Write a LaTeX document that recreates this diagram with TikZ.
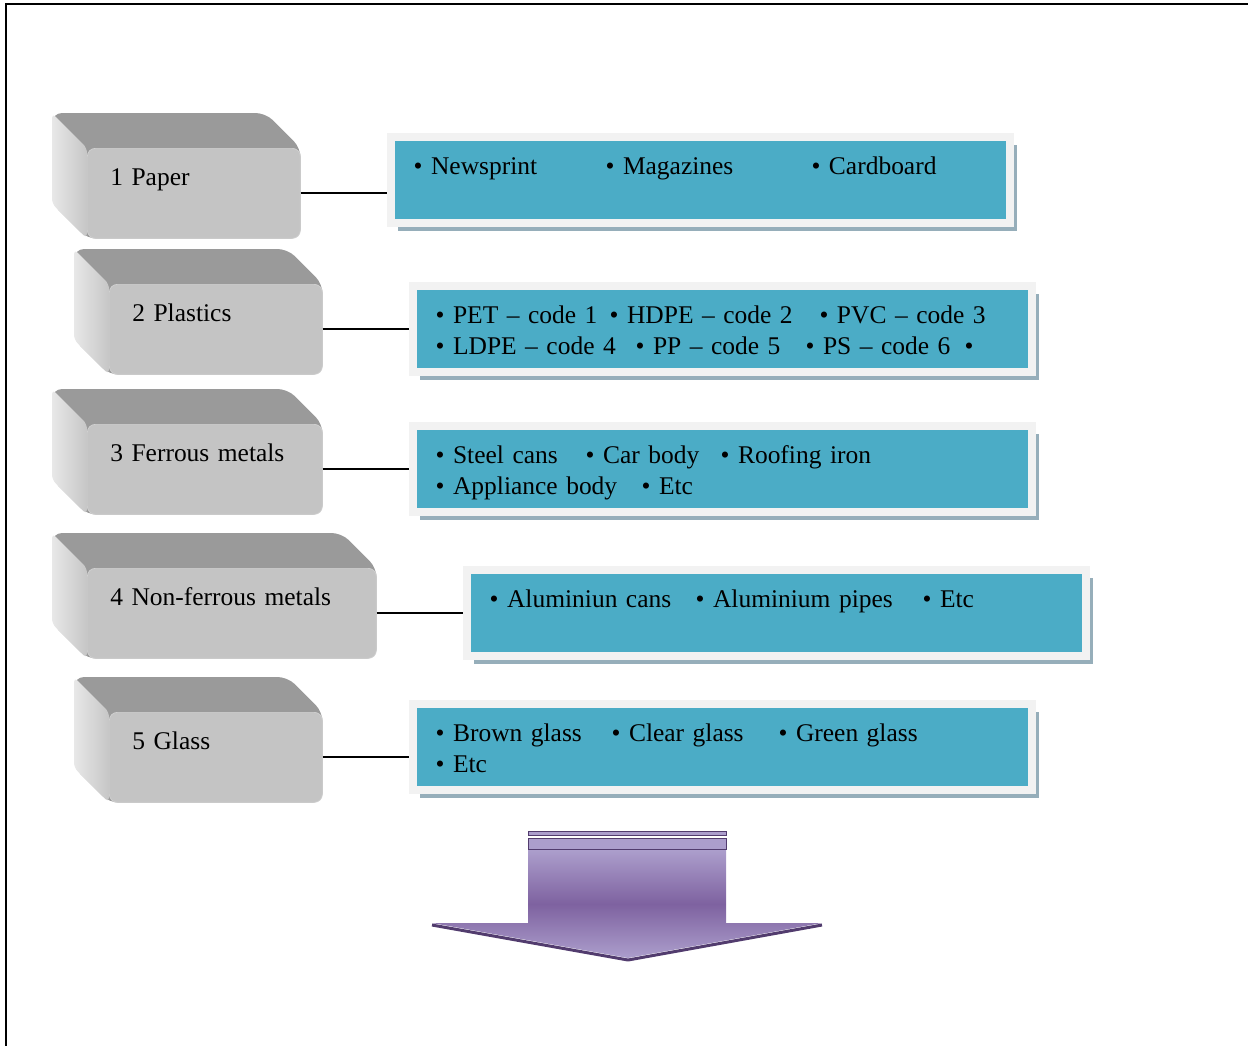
\documentclass[tikz,border=0pt]{standalone}
\usepackage{fontspec}
\setmainfont{Liberation Serif}
\usepackage{tikz}
\usetikzlibrary{positioning, shadows, calc, backgrounds}
\definecolor{listblue}{RGB}{75,172,198}
\definecolor{framewhite}{RGB}{242,242,242}
\definecolor{shadowgrey}{RGB}{150,174,186}
\definecolor{topgrey}{RGB}{154,154,154}
\definecolor{frontgrey}{RGB}{196,196,196}
\definecolor{sidelight}{RGB}{232,232,232}
\definecolor{sidedark}{RGB}{198,198,198}
\definecolor{arrowlight}{RGB}{172,158,204}
\definecolor{arrowdark}{RGB}{126,98,160}
\definecolor{arrowedge}{RGB}{82,60,110}
\tikzstyle{category} = [rectangle, rounded corners=0.16cm, fill=frontgrey, draw=white!82!black, anchor=north west, align=left, inner xsep=0.46cm, inner ysep=0pt, text height=0.74cm, text depth=1.06cm, font=\fontsize{14.5}{17.5}\selectfont]
\tikzstyle{itemlist} = [rectangle, fill=listblue, draw=framewhite, line width=0.16cm, align=left, text width=11.46cm, inner xsep=0.46cm, inner ysep=0pt, text height=0.74cm, text depth=0.98cm, font=\fontsize{14.5}{17.5}\selectfont, drop shadow={shadow xshift=0.14cm, shadow yshift=-0.16cm, fill=shadowgrey, opacity=1}]
\tikzstyle{link} = [line width=0.04cm, black]
\newcommand{\bitem}[2]{\makebox[#1][l]{\textbullet\ #2}}

\begin{document}
\begin{tikzpicture}[x=0.02cm, y=-0.02cm]
    \useasboundingbox (0,0) rectangle (1248,1046);
    % grey 3D category blocks
    \foreach \name/\x/\y/\w/\txt in {paper/87/148/213/1 Paper, plastics/109/284/213/2 Plastics, ferrous/87/424/235/3 Ferrous metals, nonferrous/87/568/289/4 Non-ferrous metals, glass/109/712/213/5 Glass}{
        \pgfmathsetlengthmacro{\tw}{(\w-46)*0.02cm}
        \node [category, text width=\tw] (\name) at (\x,\y) {\txt};
        \begin{scope}[on background layer]
            \fill [topgrey, rounded corners=0.2cm] ($(\name.north west)+(-35,-35)$) -- ($(\name.north east)+(-35,-35)$) -- (\name.north east) -- (\name.south east) -- (\name.south west) -- ($(\name.south west)+(-35,-35)$) -- cycle;
            \shade [left color=sidelight, right color=sidedark, rounded corners=0.1cm] ($(\name.north west)+(-35,-35)$) -- (\name.north west) -- (\name.south west) -- ($(\name.south west)+(-35,-35)$) -- cycle;
        \end{scope}
    }
    % blue item lists
    \node [itemlist, right=1.72cm of paper, yshift=0.26cm] (paperlist) {\bitem{3.84cm}{Newsprint}\bitem{4.12cm}{Magazines}\textbullet\ Cardboard};
    \node [itemlist, right=1.72cm of plastics] (plasticslist) {\bitem{3.48cm}{PET – code 1}\bitem{4.2cm}{HDPE – code 2}\textbullet\ PVC – code 3\\
        \bitem{4cm}{LDPE – code 4}\bitem{3.4cm}{PP – code 5}\bitem{3.18cm}{PS – code 6}\textbullet};
    \node [itemlist, right=1.72cm of ferrous] (ferrouslist) {\bitem{3cm}{Steel cans}\bitem{2.7cm}{Car body}\textbullet\ Roofing iron\\
        \bitem{4.12cm}{Appliance body}\textbullet\ Etc};
    \node [itemlist, right=1.72cm of nonferrous] (nonferrouslist) {\bitem{4.12cm}{Aluminiun cans}\bitem{4.54cm}{Aluminium pipes}\textbullet\ Etc};
    \node [itemlist, right=1.72cm of glass, yshift=0.2cm] (glasslist) {\bitem{3.52cm}{Brown glass}\bitem{3.34cm}{Clear glass}\textbullet\ Green glass\\
        \textbullet\ Etc};
    \foreach \name in {paper, plastics, ferrous, nonferrous, glass}
        \draw [link] (\name.east) -- (\name.east -| \name list.west);
    % big down arrow
    \shade [top color=arrowlight, bottom color=arrowlight, middle color=arrowdark] (528,850) -- (726,850) -- (726,923) -- (822,923) -- (628,958) -- (432,923) -- (528,923) -- cycle;
    \draw [arrowedge, line width=0.06cm, line join=round] (432,925) -- (628,960) -- (822,925);
    \filldraw [fill=arrowlight, draw=arrowedge, line width=0.4pt] (528,831) rectangle (726,835);
    \filldraw [fill=arrowlight, draw=arrowedge, line width=0.4pt] (528,838) rectangle (726,849);
    % page frame
    \draw [line width=0.04cm] (1248,4) -| (6,1046);
\end{tikzpicture}
\end{document}
